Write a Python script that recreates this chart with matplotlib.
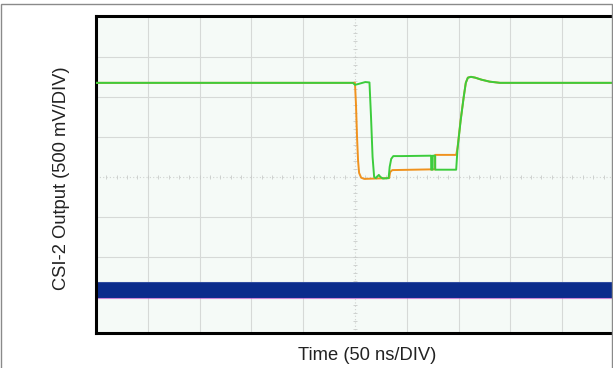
import numpy as np
import matplotlib
matplotlib.use("Agg")
import matplotlib.pyplot as plt
from matplotlib.patches import Rectangle

plt.rcParams['font.family'] = ['Liberation Sans', 'DejaVu Sans']

# time in ns (0 = centre of screen), amplitude in divisions
t_green = [-250, -2, 0, 3, 10, 14, 15.5, 17, 18.5, 20, 22, 23, 24.5, 27, 32.5,
           33.5, 35, 37, 45, 73.5, 73.6, 75, 75.1, 77.4, 77.5, 97.7,
           99, 102, 105, 107, 109, 112, 116, 122, 130, 140, 250]
v_green = [2.35, 2.35, 2.3, 2.32, 2.37, 2.36, 1.5, 0.5, 0.0, -0.03, 0.02, 0.05, 0.0, -0.04, -0.03,
           0.25, 0.45, 0.52, 0.52, 0.53, 0.18, 0.18, 0.53, 0.53, 0.18, 0.18,
           0.7, 1.4, 2.0, 2.35, 2.48, 2.5, 2.48, 2.43, 2.38, 2.35, 2.35]

t_orange = [-250, 0, 1, 2, 3, 4, 6, 9, 20, 33, 34, 36, 77.3, 77.4, 97.7,
            99, 102, 105, 107, 109, 112, 116, 122, 130, 140, 250]
v_orange = [2.35, 2.35, 1.8, 1.0, 0.4, 0.1, -0.02, -0.05, -0.04, -0.03, 0.12, 0.17, 0.19, 0.55, 0.55,
            0.72, 1.42, 2.0, 2.35, 2.48, 2.5, 2.48, 2.43, 2.38, 2.35, 2.35]

# blue channel: noisy band
blue_t = [-250, 252]
blue_lo = -3.03
blue_hi = -2.63

fig = plt.figure(figsize=(6.13, 3.68), dpi=100)
ax = fig.add_axes([96/613, 35/368, 520/613, 317/368])
ax.set_facecolor('#f5faf7')
ax.set_xlim(-250, 252)
ax.set_ylim(-3.9, 4.02)

# graticule
for x in np.arange(-200, 251, 50):
    if x != 0:
        ax.axvline(x, color='#d6d9d7', lw=0.8, zorder=1)
for y in np.arange(-3, 4, 1):
    if y != 0:
        ax.axhline(y, color='#d6d9d7', lw=0.8, zorder=1)
ax.axvline(0, color='#d0d3d1', lw=0.8, ls=(0, (1, 2)), zorder=1)
ax.axhline(0, color='#d0d3d1', lw=0.8, ls=(0, (1, 2)), zorder=1)
ticks_y = np.arange(-3.8, 4.0, 0.2)
ax.plot(np.zeros_like(ticks_y), ticks_y, ls='none', marker='_', ms=3, mew=0.6, color='#c9ccca', zorder=1)
ticks_x = np.arange(-240, 251, 10)
ax.plot(ticks_x, np.zeros_like(ticks_x), ls='none', marker='|', ms=3, mew=0.6, color='#c9ccca', zorder=1)

# traces
ax.fill_between(blue_t, blue_lo, blue_hi, color='#0b2c8c', lw=0, zorder=2)
ax.plot(blue_t, [blue_lo, blue_lo], color='#b03ac0', lw=0.8, alpha=0.6, zorder=2)
ax.plot(blue_t, [blue_hi, blue_hi], color='#4a63b0', lw=0.8, alpha=0.6, zorder=2)
ax.plot(t_orange, v_orange, color='#f0921e', lw=1.4, zorder=3)
ax.plot(t_green, v_green, color='#3ccc3c', lw=1.4, zorder=4)

ax.set_xticks([])
ax.set_yticks([])
for s in ax.spines.values():
    s.set_linewidth(2.2)
    s.set_color('black')

# outer border
fig.patches.append(Rectangle((1/613, -0.02), 611/613, (368 - 3.5)/368 + 0.02,
                             transform=fig.transFigure, fill=False,
                             edgecolor='#8a8a8a', lw=1.0))

fig.text(367/613, 13/368, 'Time (50 ns/DIV)', ha='center', va='center',
         fontsize=13.2, color='#222222')
fig.text(62/613, 189.5/368, 'CSI-2 Output (500 mV/DIV)', ha='center', va='center',
         rotation=90, fontsize=13.2, color='#222222')

fig.savefig('out.png', dpi=100)
